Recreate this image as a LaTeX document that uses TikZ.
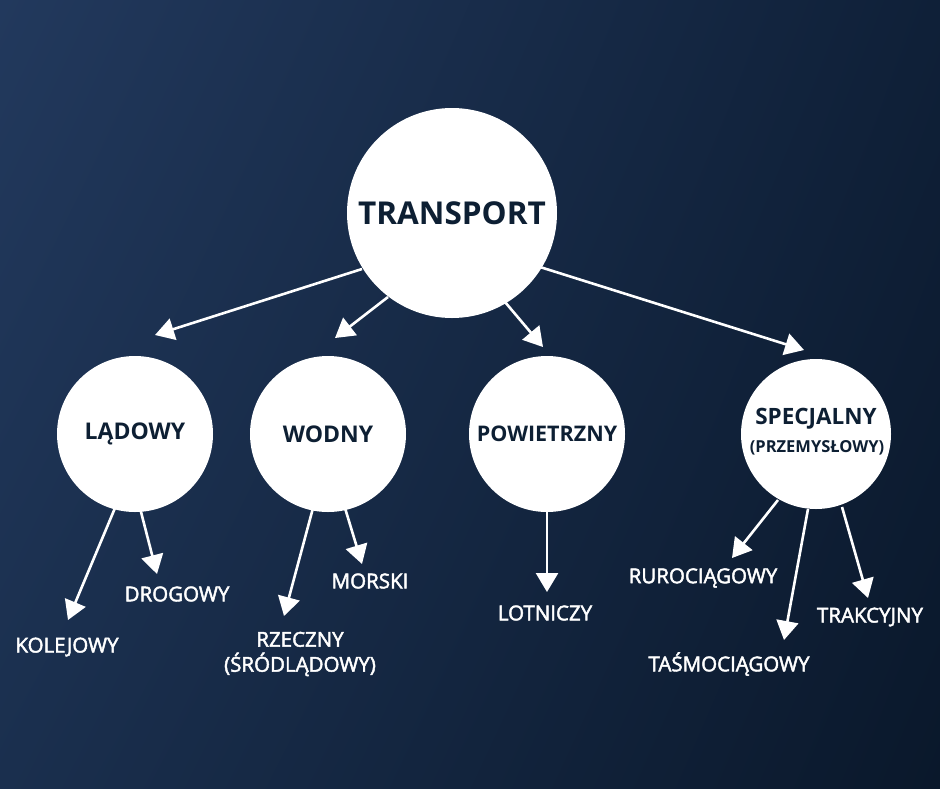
\documentclass[tikz,border=0pt]{standalone}
\usepackage{fontspec}
\setmainfont{Open Sans}
\newfontfamily\leaffont{Open Sans}[FakeBold=2.2]
\usetikzlibrary{arrows.meta,shadings}
\definecolor{bgUL}{HTML}{22395D}
\definecolor{bgUR}{HTML}{0F2038}
\definecolor{bgLL}{HTML}{1A2F4E}
\definecolor{bgLR}{HTML}{0A182B}
\definecolor{ink}{HTML}{0D1F33}
\tikzset{
  bubble/.style={circle, fill=white, inner sep=0pt, text=ink, align=center},
  leaf/.style={text=white, font=\leaffont\fontsize{20.5}{25}\selectfont, align=center, inner sep=0pt},
  arr/.style={draw=white, line width=2.6pt, -{Triangle[width=22pt,length=19pt]}},
}
\begin{document}
\begin{tikzpicture}[x=1pt,y=-1pt]
\shade[upper left=bgUL, upper right=bgUR, lower left=bgLL, lower right=bgLR] (0,0) rectangle (940,788);
\useasboundingbox (0,0) rectangle (940,788);

\node[bubble, minimum size=210pt, font=\bfseries\fontsize{31.5}{36}\selectfont] (tr) at (452,213) {TRANSPORT};
\node[bubble, minimum size=156pt, font=\bfseries\fontsize{23}{27}\selectfont] (la) at (135,434) {LĄDOWY};
\node[bubble, minimum size=156pt, font=\bfseries\fontsize{23}{27}\selectfont] (wo) at (328,434) {WODNY};
\node[bubble, minimum size=156pt, font=\bfseries\fontsize{21.5}{26}\selectfont] (po) at (547,434) {POWIETRZNY};
\node[bubble, minimum size=150pt] (sp) at (816,434) {};
\node[text=ink, font=\bfseries\fontsize{22.5}{27}\selectfont, inner sep=0pt] (spa) at (816,419) {SPECJALNY};
\node[text=ink, font=\bfseries\fontsize{16.5}{20}\selectfont, inner sep=0pt] (spb) at (817,448) {(PRZEMYSŁOWY)};

\coordinate (tla) at (155,335);
\coordinate (two) at (335,338);
\coordinate (tpo) at (543,347);
\coordinate (tsp) at (804,350);
\draw[arr] (362,269) -- (tla);
\draw[arr] (388,297) -- (two);
\draw[arr] (505,302) -- (tpo);
\draw[arr] (540,267) -- (tsp);

\node[leaf] (kol) at (67,647) {KOLEJOWY};
\node[leaf] (dro) at (177,594) {DROGOWY};
\node[leaf] (rze) at (300,654) {RZECZNY\\(ŚRÓDLĄDOWY)};
\node[leaf] (mor) at (370,581) {MORSKI};
\node[leaf] (lot) at (545,613) {LOTNICZY};
\node[leaf] (rur) at (703,578) {RUROCIĄGOWY};
\node[leaf] (tas) at (729,664) {TAŚMOCIĄGOWY};
\node[leaf] (tra) at (870,617) {TRAKCYJNY};

\coordinate (tkol) at (68,620);
\coordinate (tdro) at (157,574);
\coordinate (trze) at (284,616);
\coordinate (tmor) at (362,564);
\coordinate (tlot) at (547,592);
\coordinate (trur) at (732,558);
\coordinate (ttas) at (784,640);
\coordinate (ttra) at (868,598);
\draw[arr] (115,508) -- (tkol);
\draw[arr] (140,508) -- (tdro);
\draw[arr] (313,508) -- (trze);
\draw[arr] (345,508) -- (tmor);
\draw[arr] (547,511) -- (tlot);
\draw[arr] (778,500) -- (trur);
\draw[arr] (808,509) -- (ttas);
\draw[arr] (842,507) -- (ttra);
\end{tikzpicture}
\end{document}
